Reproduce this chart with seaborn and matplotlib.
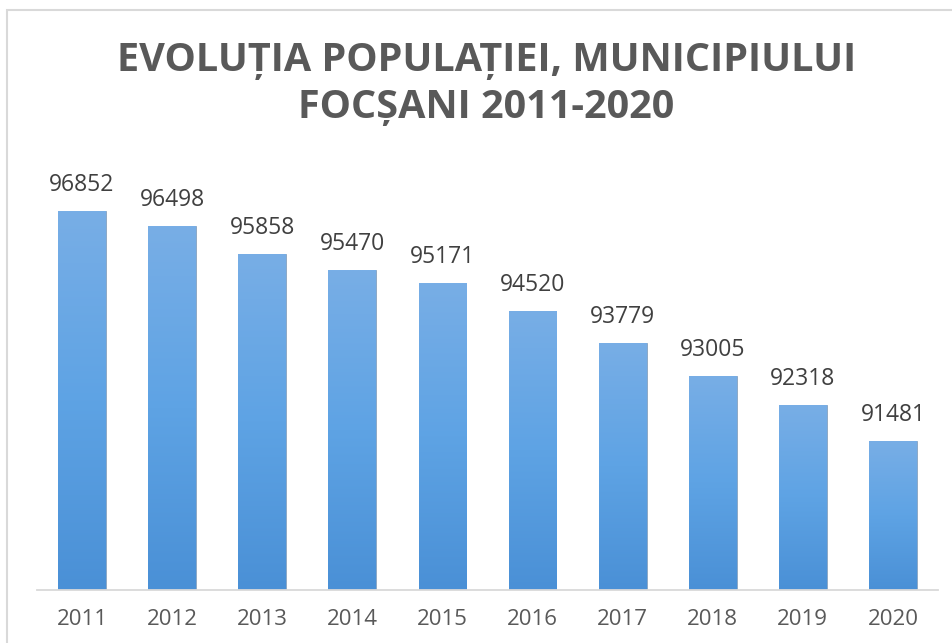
import numpy as np
import pandas as pd
import matplotlib
matplotlib.use("Agg")
import matplotlib.pyplot as plt
import seaborn as sns
from matplotlib.patches import Rectangle
from matplotlib.colors import LinearSegmentedColormap

# date populatie
years = ["2011", "2012", "2013", "2014", "2015", "2016", "2017", "2018", "2019", "2020"]
population = [96852, 96498, 95858, 95470, 95171, 94520, 93779, 93005, 92318, 91481]

TITLE = "EVOLUȚIA POPULAȚIEI, MUNICIPIULUI\nFOCȘANI 2011-2020"

sns.set_theme(style="white")
plt.rcParams['font.family'] = ['Open Sans', 'DejaVu Sans']

df = pd.DataFrame({"an": years, "populatie": population})

fig = plt.figure(figsize=(9.52, 6.43), dpi=100)
ax = fig.add_axes([37 / 952, 53 / 643, 901 / 952, 428 / 643])

sns.barplot(data=df, x="an", y="populatie", color="#5b9bd5", width=0.53,
            saturation=1, ax=ax, zorder=2)

ax.set_ylim(88000, 98000)
ax.set_xlim(-0.5, len(years) - 0.5)

# degrade vertical pe bare
cmap = LinearSegmentedColormap.from_list("grad", ["#4a90d6", "#5ea3e4", "#78aee6"])
grad = np.linspace(0, 1, 256).reshape(-1, 1)
for p in ax.patches:
    x0, y0 = p.get_x(), p.get_y()
    w, h = p.get_width(), p.get_height()
    im = ax.imshow(grad, extent=[x0, x0 + w, 88000, y0 + h], origin="lower",
                   aspect="auto", cmap=cmap, zorder=3)
    im.set_clip_path(p)
    p.set_edgecolor("#8aa4c0")
    p.set_linewidth(0.6)

ax.set_xlim(-0.5, len(years) - 0.5)
ax.set_ylim(88000, 98000)

# etichete valori
for i, v in enumerate(population):
    ax.annotate(str(v), (i, v), xytext=(0, 10), textcoords="offset points",
                ha="center", va="bottom", fontsize=16.5, color="#404040")

ax.set_xlabel("")
ax.set_ylabel("")
ax.set_yticks([])
ax.tick_params(axis="x", length=0, pad=14, labelsize=16, labelcolor="#595959")
for s in ["top", "left", "right"]:
    ax.spines[s].set_visible(False)
ax.spines["bottom"].set_color("#d9d9d9")
ax.spines["bottom"].set_linewidth(1.3)
ax.spines["bottom"].set_zorder(4)

fig.text(0.511, 1 - 118 / 643, TITLE, ha="center", va="baseline", fontsize=28.5,
         fontweight="bold", color="#595959", linespacing=1.27)

# chenar
fig.patches.append(Rectangle((7 / 952, -0.05), 1.2, 1.05 - 10 / 643,
                             transform=fig.transFigure, fill=False,
                             edgecolor="#d9d9d9", lw=1.5, zorder=0))

fig.savefig("out.png", dpi=100)
